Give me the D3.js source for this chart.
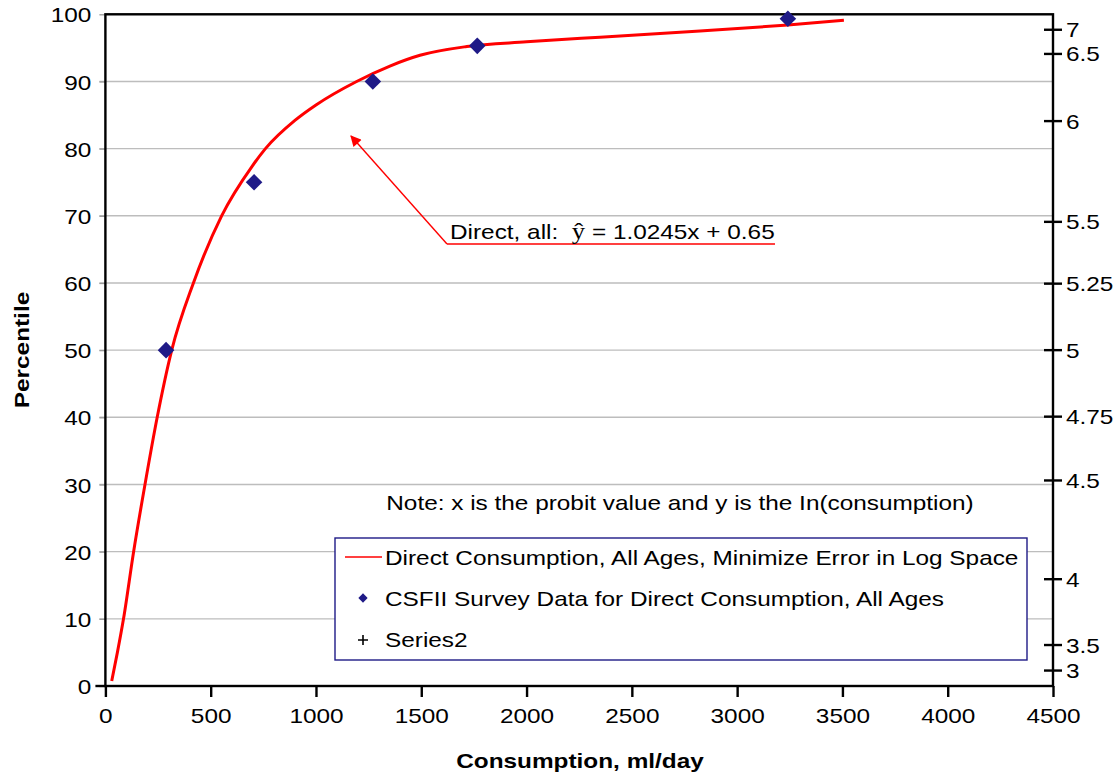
<!DOCTYPE html>
<html>
<head>
<meta charset="utf-8">
<script src="https://cdn.jsdelivr.net/npm/d3@7/dist/d3.min.js"></script>
<style>
  html, body { margin: 0; padding: 0; background: #fff; }
  svg { display: block; font-family: "Liberation Sans", Arial, sans-serif; }
</style>
</head>
<body>
<svg id="chart" width="1120" height="775"></svg>
<script>
// Fitted lognormal curve (consumption, percentile)
const curveX = [30, 57, 86, 134, 188, 246, 315, 418, 552, 695, 760, 900, 1000, 1193, 1351, 1494, 1716, 2000, 2349, 2824, 3241, 3507];
const curveY = [0.75, 5, 10, 20, 30, 40, 50, 60, 70, 77.3, 80, 84.2, 86.5, 90, 92.3, 93.9, 95.2, 95.9, 96.6, 97.5, 98.4, 99.1];

// CSFII survey points
const surveyX = [288, 706, 1270, 1766, 3241];
const surveyY = [50, 75, 90, 95.3, 99.35];

// Axis ticks
const xTicks = [0, 500, 1000, 1500, 2000, 2500, 3000, 3500, 4000, 4500];
const yTicks = [0, 10, 20, 30, 40, 50, 60, 70, 80, 90, 100];

// Probit scale on the right: label and the percentile it sits at
const probitLabels = ["7", "6.5", "6", "5.5", "5.25", "5", "4.75", "4.5", "4", "3.5", "3"];
const probitPct = [97.7, 94.1, 84.1, 69.1, 59.9, 50, 40.1, 30.6, 15.9, 6.1, 2.3];

const legendLabels = [
  "Direct Consumption, All Ages, Minimize Error in Log Space",
  "CSFII Survey Data for Direct Consumption, All Ages",
  "Series2"
];

const SX = 1.16;         // horizontal text stretch
const FS = 21;           // base font size
const NAVY = "#1f1a87";

const svg = d3.select("#chart");
svg.append("rect").attr("width", 1120).attr("height", 775).attr("fill", "#fff");

const plotL = 105.4, plotR = 1053, plotT = 14.3, plotB = 686;
const x = d3.scaleLinear().domain([0, 4500]).range([plotL, plotR]);
const y = d3.scaleLinear().domain([0, 100]).range([plotB, plotT]);

function label(g, tx, ty, text, anchor, opts = {}) {
  return g.append("text")
    .attr("transform", `translate(${tx},${ty}) scale(${SX},1)`)
    .attr("text-anchor", anchor || "start")
    .attr("font-size", opts.size || FS)
    .attr("font-weight", opts.weight || "normal")
    .attr("fill", "#000")
    .text(text);
}

// Gridlines
svg.append("g").selectAll("line").data(yTicks.filter(d => d > 0 && d < 100)).join("line")
  .attr("x1", plotL - 6).attr("x2", plotR)
  .attr("y1", d => y(d)).attr("y2", d => y(d))
  .attr("stroke", "#bdbdbd").attr("stroke-width", 1.4);

// Bottom axis
const xAxis = svg.append("g").attr("transform", `translate(0,${plotB})`)
  .call(d3.axisBottom(x).tickValues(xTicks).tickSizeInner(11).tickSizeOuter(0).tickFormat(d3.format("d")));
xAxis.select(".domain").remove();
xAxis.selectAll(".tick line").attr("stroke", "#000").attr("stroke-width", 2.4);
xAxis.selectAll(".tick text")
  .attr("font-size", FS).attr("font-family", "Liberation Sans, Arial, sans-serif")
  .attr("y", 0).attr("dy", 0)
  .attr("transform", `translate(0,37) scale(${SX},1)`);

// Left axis labels and small tick stubs
const yAxis = svg.append("g").attr("transform", `translate(${plotL},0)`)
  .call(d3.axisLeft(y).tickValues(yTicks).tickSizeInner(6).tickSizeOuter(0));
yAxis.select(".domain").remove();
yAxis.selectAll(".tick line").attr("stroke", "#9a9a9a").attr("stroke-width", 1.3);
yAxis.selectAll(".tick text")
  .attr("font-size", FS).attr("font-family", "Liberation Sans, Arial, sans-serif")
  .attr("x", 0).attr("dy", "0.36em")
  .attr("transform", `translate(-14,0) scale(${SX},1)`);

// Plot frame
svg.append("rect").attr("x", plotL).attr("y", plotT)
  .attr("width", plotR - plotL).attr("height", plotB - plotT)
  .attr("fill", "none").attr("stroke", "#000").attr("stroke-width", 2.4);
svg.append("line").attr("x1", plotL - 10).attr("x2", plotL)
  .attr("y1", plotB).attr("y2", plotB).attr("stroke", "#000").attr("stroke-width", 2.4);

// Right probit axis
const rg = svg.append("g");
rg.selectAll("line").data(probitPct).join("line")
  .attr("x1", plotR - 9).attr("x2", plotR + 9)
  .attr("y1", d => y(d)).attr("y2", d => y(d))
  .attr("stroke", "#000").attr("stroke-width", 2.4);
probitPct.forEach((p, i) => {
  label(rg, plotR + 13, y(p) + 7.5, probitLabels[i], "start");
});

// Fitted curve
const curvePts = curveX.map((v, i) => [v, curveY[i]]);
svg.append("path").datum(curvePts)
  .attr("d", d3.line().x(d => x(d[0])).y(d => y(d[1])).curve(d3.curveMonotoneX))
  .attr("fill", "none").attr("stroke", "#ff0000").attr("stroke-width", 3);

// Survey points
const diamond = d3.symbol().type(d3.symbolDiamond2).size(175);
svg.append("g").selectAll("path").data(surveyX.map((v, i) => [v, surveyY[i]])).join("path")
  .attr("d", diamond)
  .attr("transform", d => `translate(${x(d[0])},${y(d[1])})`)
  .attr("fill", NAVY);

// Equation callout with arrow
const defs = svg.append("defs");
defs.append("marker").attr("id", "arrowHead")
  .attr("viewBox", "0 0 10 10").attr("refX", 9).attr("refY", 5)
  .attr("markerWidth", 15).attr("markerHeight", 11).attr("markerUnits", "userSpaceOnUse")
  .attr("orient", "auto")
  .append("path").attr("d", "M0,0 L10,5 L0,10 Z").attr("fill", "#ff0000");

const callout = svg.append("g");
callout.append("line").attr("x1", 447).attr("y1", 244).attr("x2", 775).attr("y2", 244)
  .attr("stroke", "#ff0000").attr("stroke-width", 1.4);
callout.append("line").attr("x1", 447).attr("y1", 244).attr("x2", 351).attr("y2", 136)
  .attr("stroke", "#ff0000").attr("stroke-width", 1.4).attr("marker-end", "url(#arrowHead)");
const eq = label(callout, 450, 239, "", "start");
eq.append("tspan").text("Direct, all:\u00a0\u00a0");
eq.append("tspan").attr("font-family", "Liberation Serif, Times New Roman, serif").attr("font-size", 23).text("\u0177");
eq.append("tspan").text(" = 1.0245x + 0.65");

// Note
label(svg, 680, 510, "Note: x is the probit value and y is the In(consumption)", "middle");

// Legend
const lg = svg.append("g");
lg.append("rect").attr("x", 335).attr("y", 538).attr("width", 692).attr("height", 122)
  .attr("fill", "#fff").attr("stroke", NAVY).attr("stroke-width", 1.4);
lg.append("line").attr("x1", 345).attr("x2", 382).attr("y1", 557).attr("y2", 557)
  .attr("stroke", "#ff0000").attr("stroke-width", 1.6);
lg.append("path").attr("d", d3.symbol().type(d3.symbolDiamond2).size(55))
  .attr("transform", "translate(363,598)").attr("fill", NAVY);
lg.append("path").attr("d", "M358,640 h10 M363,635 v10").attr("stroke", "#000").attr("stroke-width", 1.6);
[565, 606, 647].forEach((by, i) => label(lg, 385, by, legendLabels[i], "start"));

// Axis titles
label(svg, 580, 768, "Consumption, ml/day", "middle", { weight: "bold" });
svg.append("text")
  .attr("transform", `translate(29,350) rotate(-90) scale(${SX},1)`)
  .attr("text-anchor", "middle").attr("font-size", FS).attr("font-weight", "bold")
  .text("Percentile");
</script>
</body>
</html>
